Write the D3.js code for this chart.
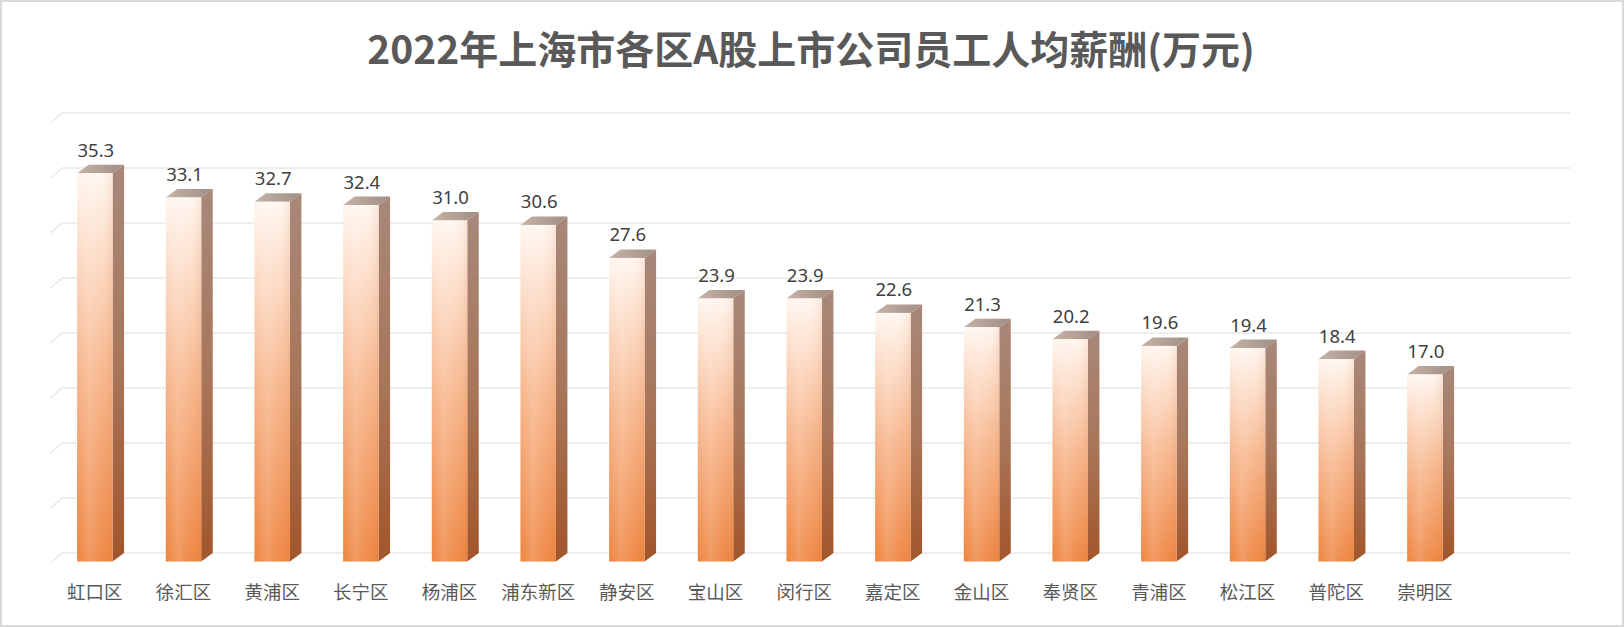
<!DOCTYPE html>
<html>
<head>
<meta charset="utf-8">
<script src="https://cdn.jsdelivr.net/npm/d3@7/dist/d3.min.js"></script>
<style>
html,body{margin:0;padding:0;background:#fff;}
svg{display:block;}
</style>
</head>
<body>
<svg id="chart" width="1624" height="627"></svg>
<script>
const title = "2022年上海市各区A股上市公司员工人均薪酬(万元)";
const categories = ["虹口区","徐汇区","黄浦区","长宁区","杨浦区","浦东新区","静安区","宝山区","闵行区","嘉定区","金山区","奉贤区","青浦区","松江区","普陀区","崇明区"];
const values = [35.3,33.1,32.7,32.4,31.0,30.6,27.6,23.9,23.9,22.6,21.3,20.2,19.6,19.4,18.4,17.0];
const gridTicks = [0,5,10,15,20,25,30,35,40];

const W = 1624, H = 627;
const svg = d3.select("#chart");
const defs = svg.append("defs");

// frame
svg.append("rect").attr("x",1).attr("y",1).attr("width",W-2).attr("height",H-2)
  .attr("fill","#fff").attr("stroke","#d9d9d9").attr("stroke-width",2);

// depth offsets for pseudo-3D
const DX = 11.5, DY = -8.5;

const x = d3.scaleBand().domain(categories).range([50.5, 50.5 + 16*88.67])
  .paddingInner(0.6).paddingOuter(0.3);
const y = d3.scaleLinear().domain([0,40]).range([561.5, 121.5]);
const gridRight = 1570.5;

// gradients
const gFront = defs.append("linearGradient").attr("id","gFront").attr("x1",0).attr("y1",0).attr("x2",0).attr("y2",1);
[[0,"#fff6ef"],[0.15,"#fde2d0"],[0.5,"#f7b68c"],[1,"#ee843f"]].forEach(s=>gFront.append("stop").attr("offset",s[0]).attr("stop-color",s[1]));
const gShade = defs.append("linearGradient").attr("id","gShade").attr("x1",0).attr("y1",0).attr("x2",1).attr("y2",0);
[[0,"#ffffff",0.0],[0.35,"#ffffff",0.18],[0.7,"#ffffff",0.05],[1,"#c86a30",0.12]].forEach(s=>gShade.append("stop").attr("offset",s[0]).attr("stop-color",s[1]).attr("stop-opacity",s[2]));
const gSide = defs.append("linearGradient").attr("id","gSide").attr("x1",0).attr("y1",0).attr("x2",0).attr("y2",1);
[[0,"#a8887a"],[0.5,"#a8765a"],[1,"#a2552a"]].forEach(s=>gSide.append("stop").attr("offset",s[0]).attr("stop-color",s[1]));
const gTop = defs.append("linearGradient").attr("id","gTop").attr("x1",0).attr("y1",0).attr("x2",1).attr("y2",0);
[[0,"#c7b3a6"],[1,"#9f8e84"]].forEach(s=>gTop.append("stop").attr("offset",s[0]).attr("stop-color",s[1]));

// gridlines (back wall + slanted floor edge)
const grid = svg.append("g");
grid.selectAll("line.h").data(gridTicks).join("line").attr("class","h")
  .attr("x1", x.range()[0] + DX).attr("x2", gridRight)
  .attr("y1", d => y(d) + DY).attr("y2", d => y(d) + DY)
  .attr("stroke","#e8e8e8").attr("stroke-width",1.6);
grid.selectAll("line.s").data(gridTicks).join("line").attr("class","s")
  .attr("x1", x.range()[0]).attr("x2", x.range()[0] + DX)
  .attr("y1", d => y(d) + 1.5).attr("y2", d => y(d) + DY)
  .attr("stroke","#e8e8e8").attr("stroke-width",1.6);

// bars
const bars = svg.append("g").selectAll("g").data(categories.map((c,i)=>({c, v: values[i]}))).join("g");
const bw = x.bandwidth();
bars.append("path").attr("fill","url(#gSide)")
  .attr("d", d => {
    const x1 = x(d.c) + bw, yt = y(d.v), y0 = y(0);
    return `M${x1},${yt}L${x1+DX},${yt+DY}L${x1+DX},${y0+DY}L${x1},${y0}Z`;
  });
bars.append("path").attr("fill","url(#gTop)")
  .attr("d", d => {
    const x0 = x(d.c), yt = y(d.v);
    return `M${x0},${yt}L${x0+DX},${yt+DY}L${x0+bw+DX},${yt+DY}L${x0+bw},${yt}Z`;
  });
bars.append("rect").attr("fill","url(#gFront)")
  .attr("x", d => x(d.c)).attr("y", d => y(d.v)).attr("width", bw).attr("height", d => y(0) - y(d.v));
bars.append("rect").attr("fill","url(#gShade)")
  .attr("x", d => x(d.c)).attr("y", d => y(d.v)).attr("width", bw).attr("height", d => y(0) - y(d.v));

// value labels
bars.append("text")
  .attr("x", d => x(d.c) + bw/2 + 1)
  .attr("y", d => y(d.v) - 16.5)
  .attr("text-anchor","middle")
  .attr("font-family","'Noto Sans', 'Noto Sans CJK SC', sans-serif")
  .attr("font-size", 18.5)
  .attr("fill","#404040")
  .text(d => d.v.toFixed(1));

// category axis labels
const xAxis = d3.axisBottom(x).tickSize(0).tickPadding(0);
const ax = svg.append("g").attr("transform", `translate(0,${y(0)+22})`).call(xAxis);
ax.select(".domain").remove();
ax.selectAll("text")
  .attr("font-family","'Noto Sans CJK SC', sans-serif")
  .attr("font-size", 18.5)
  .attr("fill","#595959")
  .attr("dy", null)
  .attr("y", 15);

// title
svg.append("text").attr("x", 811).attr("y", 64).attr("text-anchor","middle")
  .attr("font-family","'Noto Sans CJK SC', sans-serif").attr("font-weight","bold")
  .attr("font-size", 39).attr("fill","#595959").text(title);
</script>
</body>
</html>
